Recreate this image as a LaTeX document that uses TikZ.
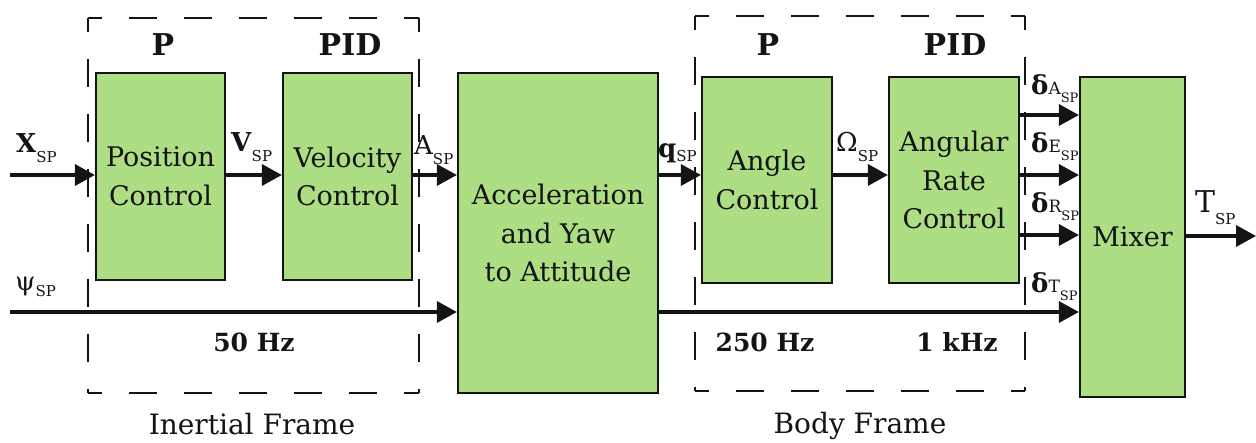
\documentclass[tikz,border=0pt]{standalone}
\usepackage{fontspec}
\setmainfont{DejaVu Serif}
\usetikzlibrary{arrows.meta}
\definecolor{boxgreen}{RGB}{174,222,132}
\definecolor{ink}{RGB}{20,20,20}
\newcommand\spsub[2][-10pt]{\raisebox{#1}{\fontsize{15}{15}\selectfont #2}}
\newcommand\dsub[2]{{\fontsize{17}{17}\selectfont #1}\raisebox{-8pt}{\fontsize{13}{13}\selectfont #2}}
\begin{document}
\begin{tikzpicture}[x=1pt,y=-1pt,
  blk/.style={draw=ink, line width=2.2pt, fill=boxgreen, inner sep=0pt, align=center,
              text=ink, font=\fontsize{27}{38.5}\selectfont},
  arr/.style={draw=ink, line width=3.4pt, -{Triangle[length=20pt,width=21pt]}},
  frm/.style={draw=ink, line width=2.2pt, dash pattern=on 28pt off 27pt, dash phase=14pt},
  ctl/.style={text=ink, inner sep=0pt, font=\fontsize{30}{32}\selectfont\bfseries},
  hz/.style={text=ink, inner sep=0pt, font=\fontsize{25}{30}\selectfont\bfseries},
  framecap/.style={text=ink, inner sep=0pt, font=\fontsize{28}{30}\selectfont},
  sig/.style={text=ink, inner sep=0pt, anchor=base west, font=\fontsize{26}{28}\selectfont}
]
\useasboundingbox[fill=white] (0,0) rectangle (1256,443);

% dashed frames
\coordinate (fa1) at (88,18);  \coordinate (fb1) at (419,393);
\coordinate (fa2) at (695,16); \coordinate (fb2) at (1025,391);
\foreach \a/\b in {fa1/fb1, fa2/fb2}{
  \draw[frm] (\a) -- (\a -| \b);
  \draw[frm] (\a) -- (\a |- \b);
  \draw[frm] (\a -| \b) -- (\b);
  \draw[frm] (\a |- \b) -- (\b);
}

% blocks
\node[blk, minimum width=129pt, minimum height=207pt] (pos) at (160.5,176.5) {Position\\Control};
\node[blk, minimum width=129pt, minimum height=207pt] (vel) at (347.5,176.5) {Velocity\\Control};
\node[blk, minimum width=200pt, minimum height=320pt] (acc) at (558,233) {Acceleration\\and Yaw\\to Attitude};
\node[blk, minimum width=130pt, minimum height=206pt] (ang) at (767,180) {Angle\\Control};
\node[blk, minimum width=130pt, minimum height=206pt] (rate) at (954,180) {Angular\\Rate\\Control};
\node[blk, minimum width=105pt, minimum height=320pt] (mix) at (1132.5,237) {Mixer};

% controller type labels
\node[ctl] (p1) at (163,45) {P};
\node[ctl] (pid1) at (350,45) {PID};
\node[ctl] (p2) at (768,45) {P};
\node[ctl] (pid2) at (955,45) {PID};

% rates
\node[hz] (hz1) at (254,342) {50 Hz};
\node[hz] (hz2) at (765,342) {250 Hz};
\node[hz] (hz3) at (957,342) {1 kHz};

% frame captions
\node[framecap] (cf1) at (252,424) {Inertial Frame};
\node[framecap] (cf2) at (860,426) {Body Frame};

% levels
\coordinate (xin) at (10,175);
\coordinate (psiin) at (10,312);
\coordinate (ymid) at (0,175);
\coordinate (yA) at (0,115);
\coordinate (yR) at (0,235);
\coordinate (tout) at (1256,236);

% connectors
\draw[arr] (xin) -- (pos.west |- xin);
\draw[arr] (pos.east |- ymid) -- (vel.west |- ymid);
\draw[arr] (vel.east |- ymid) -- (acc.west |- ymid);
\draw[arr] (acc.east |- ymid) -- (ang.west |- ymid);
\draw[arr] (ang.east |- ymid) -- (rate.west |- ymid);
\draw[arr] (psiin) -- (acc.west |- psiin);
\draw[arr] (acc.east |- psiin) -- (mix.west |- psiin);
\draw[arr] (rate.east |- yA) -- (mix.west |- yA);
\draw[arr] (rate.east |- ymid) -- (mix.west |- ymid);
\draw[arr] (rate.east |- yR) -- (mix.west |- yR);
\draw[arr] (mix.east |- tout) -- (tout);

% signal labels
\node[sig] (lx) at (16,153) {\textbf{X}\spsub{SP}};
\node[sig] (lv) at (231,152) {\textbf{V}\spsub{SP}};
\node[sig] (la) at (414,155) {A\spsub{SP}};
\node[sig] (lpsi) at (15,291) {ψ\spsub[-6pt]{SP}};
\node[sig] (lq) at (658,158) {\textbf{q}\spsub[-4pt]{SP}};
\node[sig] (lom) at (836,152) {Ω\spsub{SP}};
\node[sig] (lda) at (1031,95) {\textbf{δ}\dsub{A}{SP}};
\node[sig] (lde) at (1031,153) {\textbf{δ}\dsub{E}{SP}};
\node[sig] (ldr) at (1031,213) {\textbf{δ}\dsub{R}{SP}};
\node[sig] (ldt) at (1031,293) {\textbf{δ}\dsub{T}{SP}};
\node[sig, font=\fontsize{30}{32}\selectfont] (lt) at (1195,213) {T\spsub[-12pt]{SP}};
\end{tikzpicture}
\end{document}
